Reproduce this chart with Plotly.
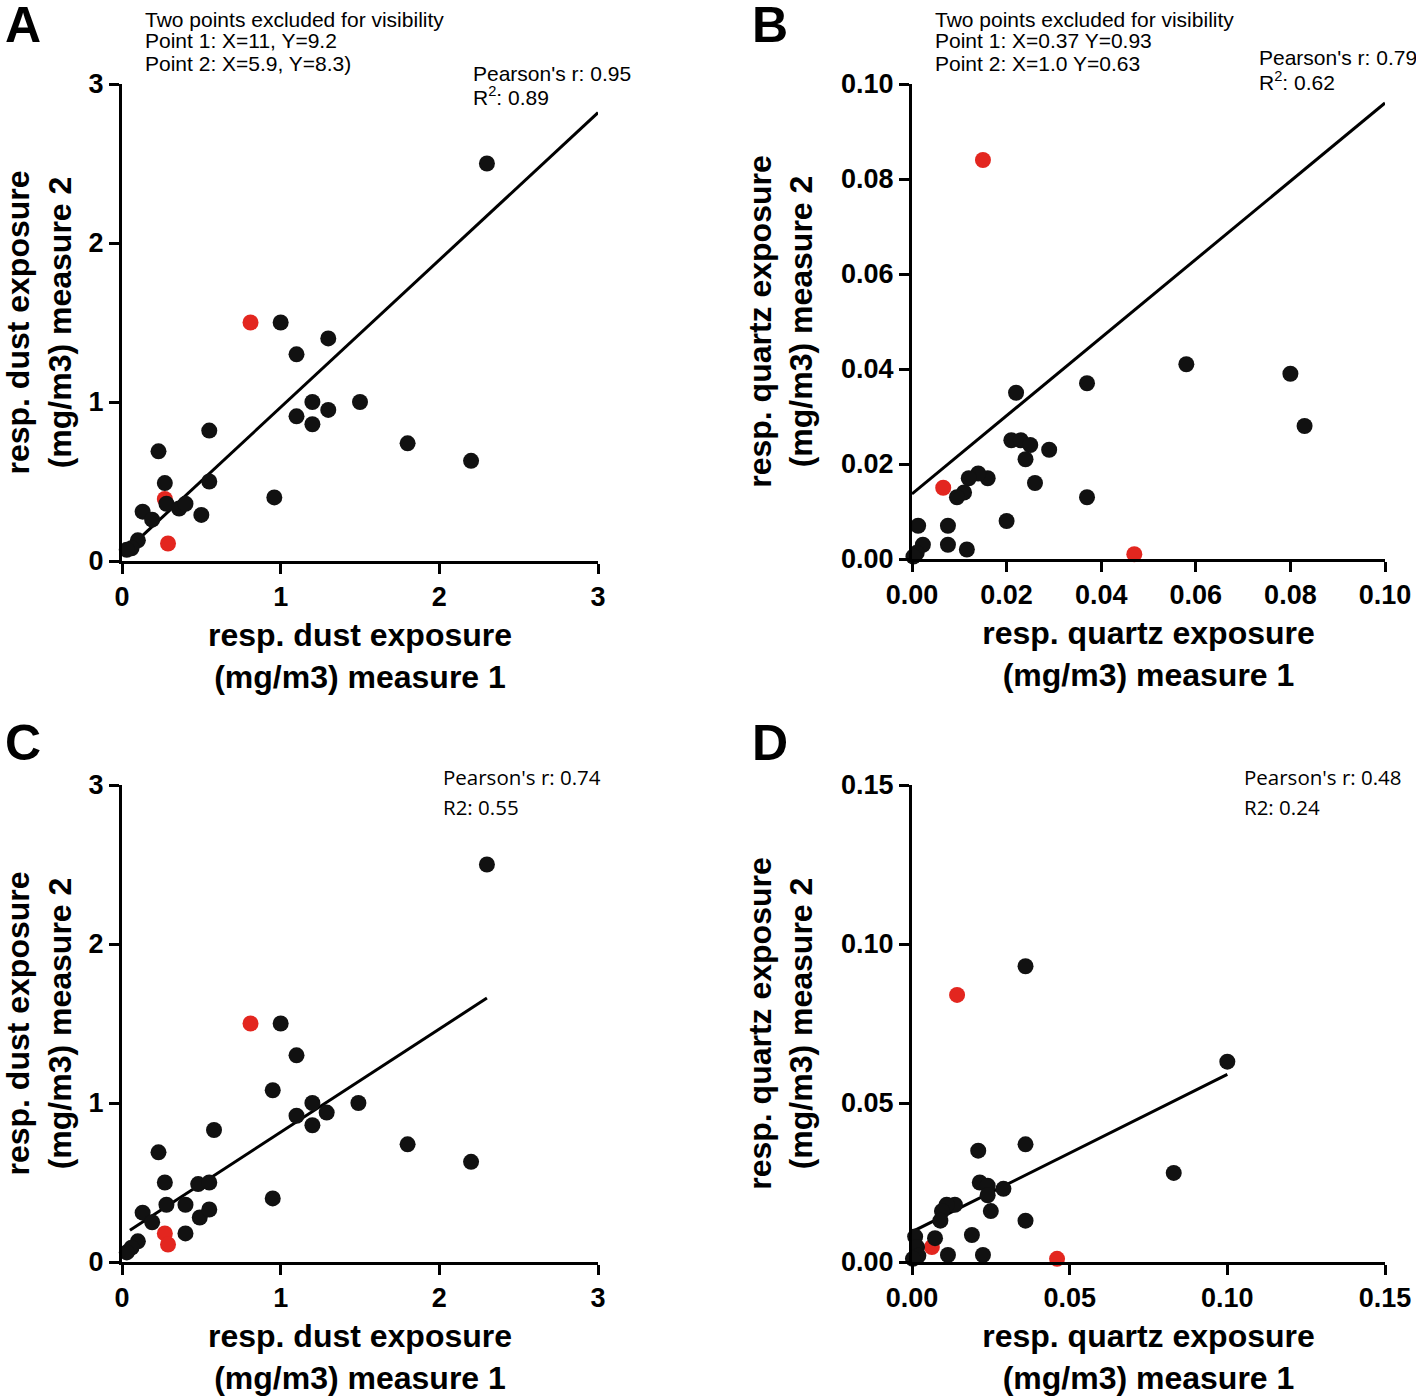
import plotly.graph_objects as go

# Panel A: respirable dust, measure 1 vs measure 2
a_black_x = [2.30, 1.00, 1.10, 1.30, 1.10, 1.20, 1.20, 1.30, 1.50, 1.80, 2.20, 0.96, 0.55, 0.55,
             0.23, 0.27, 0.28, 0.36, 0.40, 0.50, 0.13, 0.19, 0.10, 0.06, 0.03]
a_black_y = [2.50, 1.50, 1.30, 1.40, 0.91, 1.00, 0.86, 0.95, 1.00, 0.74, 0.63, 0.40, 0.82, 0.50,
             0.69, 0.49, 0.36, 0.33, 0.36, 0.29, 0.31, 0.26, 0.13, 0.08, 0.07]
a_red_x = [0.81, 0.27, 0.29]
a_red_y = [1.50, 0.39, 0.11]
a_fit_x = [0.0, 3.0]
a_fit_y = [0.04, 2.82]

# Panel B: respirable quartz
b_black_x = [0.058, 0.080, 0.083, 0.037, 0.037, 0.022, 0.021, 0.023, 0.025, 0.024, 0.029, 0.026,
             0.020, 0.016, 0.014, 0.012, 0.011, 0.0095, 0.0013, 0.0076, 0.0076, 0.0116, 0.0023,
             0.001, 0.0003]
b_black_y = [0.041, 0.039, 0.028, 0.037, 0.013, 0.035, 0.025, 0.025, 0.024, 0.021, 0.023, 0.016,
             0.008, 0.017, 0.018, 0.017, 0.014, 0.013, 0.007, 0.007, 0.003, 0.002, 0.003,
             0.0013, 0.0005]
b_red_x = [0.015, 0.0066, 0.047]
b_red_y = [0.084, 0.015, 0.001]
b_fit_x = [0.0, 0.1]
b_fit_y = [0.0137, 0.096]

# Panel C: respirable dust, all points
c_black_x = [2.30, 1.00, 1.10, 0.95, 1.49, 1.29, 1.20, 1.10, 1.20, 1.80, 2.20, 0.95, 0.58, 0.23,
             0.27, 0.48, 0.55, 0.28, 0.40, 0.49, 0.55, 0.40, 0.13, 0.19, 0.10, 0.06, 0.03]
c_black_y = [2.50, 1.50, 1.30, 1.08, 1.00, 0.94, 1.00, 0.92, 0.86, 0.74, 0.63, 0.40, 0.83, 0.69,
             0.50, 0.49, 0.50, 0.36, 0.36, 0.28, 0.33, 0.18, 0.31, 0.25, 0.13, 0.09, 0.06]
c_red_x = [0.81, 0.27, 0.29]
c_red_y = [1.50, 0.18, 0.11]
c_fit_x = [0.05, 2.30]
c_fit_y = [0.20, 1.66]

# Panel D: respirable quartz, all points
d_black_x = [0.036, 0.100, 0.083, 0.036, 0.036, 0.021, 0.0215, 0.024, 0.029, 0.024, 0.025, 0.019,
             0.0136, 0.011, 0.0095, 0.009, 0.0073, 0.0114, 0.0225, 0.001, 0.0016, 0.002, 0.0003]
d_black_y = [0.093, 0.063, 0.028, 0.037, 0.013, 0.035, 0.025, 0.024, 0.023, 0.021, 0.016, 0.0085,
             0.018, 0.018, 0.016, 0.013, 0.0075, 0.0022, 0.0022, 0.008, 0.0047, 0.002, 0.001]
d_red_x = [0.0143, 0.0063, 0.046]
d_red_y = [0.084, 0.0047, 0.001]
d_fit_x = [0.0, 0.1]
d_fit_y = [0.0095, 0.059]

dust_ticks = [0, 1, 2, 3]
quartz_ticks_b = [0.00, 0.02, 0.04, 0.06, 0.08, 0.10]
quartz_ticks_d = [0.00, 0.05, 0.10, 0.15]

W, H = 1416, 1399


def px(x):
    return x / W


def py(y):
    return 1 - y / H


panels = [
    dict(bx=a_black_x, by=a_black_y, rx=a_red_x, ry=a_red_y, fx=a_fit_x, fy=a_fit_y,
         ticks=dust_ticks, fmt="d", rng=[0, 3], xd=(122, 598), yd=(84, 561),
         xt="resp. dust exposure<br>(mg/m3) measure 1", yt="resp. dust exposure<br>(mg/m3) measure 2"),
    dict(bx=b_black_x, by=b_black_y, rx=b_red_x, ry=b_red_y, fx=b_fit_x, fy=b_fit_y,
         ticks=quartz_ticks_b, fmt=".2f", rng=[0, 0.1], xd=(912, 1385), yd=(84, 559),
         xt="resp. quartz exposure<br>(mg/m3) measure 1", yt="resp. quartz exposure<br>(mg/m3) measure 2"),
    dict(bx=c_black_x, by=c_black_y, rx=c_red_x, ry=c_red_y, fx=c_fit_x, fy=c_fit_y,
         ticks=dust_ticks, fmt="d", rng=[0, 3], xd=(122, 598), yd=(785, 1262),
         xt="resp. dust exposure<br>(mg/m3) measure 1", yt="resp. dust exposure<br>(mg/m3) measure 2"),
    dict(bx=d_black_x, by=d_black_y, rx=d_red_x, ry=d_red_y, fx=d_fit_x, fy=d_fit_y,
         ticks=quartz_ticks_d, fmt=".2f", rng=[0, 0.15], xd=(912, 1385), yd=(785, 1262),
         xt="resp. quartz exposure<br>(mg/m3) measure 1", yt="resp. quartz exposure<br>(mg/m3) measure 2"),
]

fig = go.Figure()
bold = dict(family="Liberation Sans", color="black", weight="bold")
layout = {}

for i, p in enumerate(panels, start=1):
    xa = "x" if i == 1 else f"x{i}"
    ya = "y" if i == 1 else f"y{i}"
    fig.add_trace(go.Scatter(x=p["fx"], y=p["fy"], mode="lines", xaxis=xa, yaxis=ya,
                             line=dict(color="black", width=3), cliponaxis=False, showlegend=False))
    fig.add_trace(go.Scatter(x=p["rx"], y=p["ry"], mode="markers", xaxis=xa, yaxis=ya,
                             marker=dict(color="#e3261f", size=16), cliponaxis=False, showlegend=False))
    fig.add_trace(go.Scatter(x=p["bx"], y=p["by"], mode="markers", xaxis=xa, yaxis=ya,
                             marker=dict(color="#111111", size=16), cliponaxis=False, showlegend=False))
    common = dict(range=p["rng"], tickvals=p["ticks"], tickformat=p["fmt"], showgrid=False,
                  zeroline=False, showline=True, linecolor="black", linewidth=3,
                  ticks="outside", ticklen=10, tickwidth=3, tickcolor="black",
                  tickfont=dict(size=27, **bold), automargin=False)
    layout["xaxis" if i == 1 else f"xaxis{i}"] = dict(
        common, anchor=ya, domain=[px(p["xd"][0]), px(p["xd"][1])],
        title=dict(text=p["xt"], font=dict(size=32, **bold), standoff=13))
    layout["yaxis" if i == 1 else f"yaxis{i}"] = dict(
        common, anchor=xa, domain=[py(p["yd"][1]), py(p["yd"][0])],
        title=dict(text=p["yt"], font=dict(size=32, **bold), standoff=19))

note = dict(family="Liberation Sans", size=21, color="black")
calib = dict(family="Open Sans", size=20.5, color="black")
annotations = []
for letter, x, y in [("A", 3, 25), ("B", 750, 25), ("C", 3, 743), ("D", 750, 743)]:
    annotations.append(dict(text=letter, x=px(x), y=py(y), xanchor="left", yanchor="middle",
                            font=dict(family="Liberation Sans", size=50, color="black", weight="bold")))
for text, x, y, f in [
    ("Two points excluded for visibility", 143, 19, note),
    ("Point 1: X=11, Y=9.2", 143, 41, note),
    ("Point 2: X=5.9, Y=8.3)", 143, 63, note),
    ("Pearson's r: 0.95", 471, 73, note),
    ("R<sup>2</sup>: 0.89", 471, 96, note),
    ("Two points excluded for visibility", 933, 19, note),
    ("Point 1: X=0.37 Y=0.93", 933, 41, note),
    ("Point 2: X=1.0 Y=0.63", 933, 63, note),
    ("Pearson's r: 0.79", 1257, 58, note),
    ("R<sup>2</sup>: 0.62", 1257, 81, note),
    ("Pearson's r: 0.74", 441, 777, calib),
    ("R2: 0.55", 441, 807, calib),
    ("Pearson's r: 0.48", 1242, 777, calib),
    ("R2: 0.24", 1242, 807, calib),
]:
    annotations.append(dict(text=text, x=px(x), y=py(y), xanchor="left", yanchor="middle",
                            font=f))
for a in annotations:
    a.update(xref="paper", yref="paper", showarrow=False)

fig.update_layout(
    template="none",
    width=W, height=H,
    margin=dict(l=0, r=0, t=0, b=0),
    paper_bgcolor="white", plot_bgcolor="white",
    annotations=annotations,
    **layout,
)

# drop the default 8px page margin so the figure fills the window exactly
fig.write_html("out.html", config={"displayModeBar": False},
               post_script="document.body.style.margin='0';document.body.style.overflow='hidden';")
